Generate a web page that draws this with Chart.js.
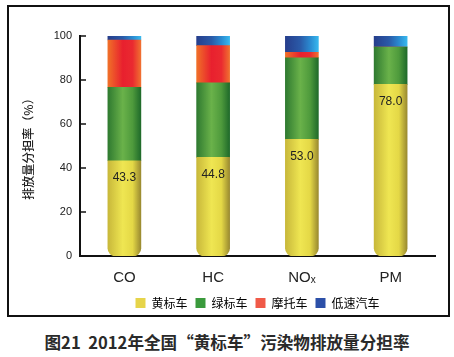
<!DOCTYPE html>
<html><head><meta charset="utf-8">
<script src="https://cdn.jsdelivr.net/npm/chart.js@4"></script>
<style>
body{margin:0;background:#fff;width:454px;height:357px;position:relative;overflow:hidden;font-family:'Liberation Sans','Noto Sans CJK SC',sans-serif;}
#box{position:absolute;left:7px;top:5px;width:439px;height:308px;border:2px solid #111;}
#box canvas{position:absolute;left:0;top:0;}
#title{position:absolute;left:0;width:454px;top:330px;text-align:center;font-size:16.6px;font-weight:bold;color:#2a2a2a;font-family:'Noto Sans CJK SC','Liberation Sans',sans-serif;}
</style></head>
<body>
<div id="box"><canvas id="c" width="439" height="312"></canvas></div>
<div id="title">图21&nbsp; 2012年全国“黄标车”污染物排放量分担率</div>
<script>
const categories = ['CO', 'HC', 'NOₓ', 'PM'];
const seriesNames = ['黄标车', '绿标车', '摩托车', '低速汽车'];
const yellowVals = [43.3, 44.8, 53.0, 78.0];
const greenVals = [33.4, 33.9, 37.1, 17.0];
const motoVals = [21.5, 16.9, 2.5, 0];
const lowSpeedVals = [1.8, 4.4, 7.4, 5.0];
const yTicks = [0, 20, 40, 60, 80, 100];

const BAR_W = 33;
const grads = [
  ['#c8b83a', '#efe652', '#e4d846', '#9a8a30'],
  ['#2f7a30', '#6ab24a', '#4e9a3c', '#1f6a2a'],
  ['#f07028', '#e8202e', '#ea2a30', '#f07030'],
  ['#263e8c', '#2a5aa8', '#2a8ad0', '#38b8ee']
];
const legendColors = ['#e6d44a', '#3a9a3c', '#f05a48', '#2c50a8'];

function gradFor(i) {
  return function (c) {
    const chart = c.chart;
    if (!chart.chartArea || !chart.scales.x) return legendColors[i];
    const x = chart.scales.x.getPixelForValue(c.dataIndex);
    const g = chart.ctx.createLinearGradient(x - BAR_W / 2, 0, x + BAR_W / 2, 0);
    const s = grads[i];
    g.addColorStop(0, s[0]); g.addColorStop(0.45, s[1]); g.addColorStop(0.75, s[2]); g.addColorStop(1, s[3]);
    return g;
  };
}

const valsList = [yellowVals, greenVals, motoVals, lowSpeedVals];
const datasets = seriesNames.map((n, i) => ({
  label: n,
  data: valsList[i],
  backgroundColor: gradFor(i),
  borderWidth: 0,
  borderSkipped: false,
  borderRadius: i === 0 ? {bottomLeft: 8, bottomRight: 8, topLeft: 0, topRight: 0} : 0,
  barThickness: BAR_W
}));

const helpers = {
  id: 'helpers',
  afterDatasetsDraw(chart) {
    const ctx = chart.ctx;
    const meta = chart.getDatasetMeta(0);
    ctx.save();
    ctx.font = '12px "Liberation Sans", sans-serif';
    ctx.fillStyle = '#222';
    ctx.textAlign = 'center';
    ctx.textBaseline = 'middle';
    meta.data.forEach((el, i) => {
      ctx.fillText(yellowVals[i].toFixed(1), el.x, el.y + 17);
    });
    const ys = chart.scales.y;
    ctx.strokeStyle = '#111';
    ctx.lineWidth = 1.5;
    yTicks.forEach(v => {
      const py = ys.getPixelForValue(v);
      ctx.beginPath(); ctx.moveTo(ys.right, py); ctx.lineTo(ys.right + 6, py); ctx.stroke();
    });
    ctx.restore();
  }
};

new Chart(document.getElementById('c'), {
  type: 'bar',
  data: { labels: categories, datasets },
  plugins: [helpers],
  options: {
    responsive: false,
    animation: false,
    layout: { padding: { top: 29, right: 13, left: 0, bottom: 0 } },
    plugins: {
      tooltip: { enabled: false },
      legend: {
        position: 'bottom',
        fullSize: false,
        labels: {
          boxWidth: 10, boxHeight: 10, padding: 8, color: '#222',
          font: { size: 12, family: "'Noto Sans CJK SC', sans-serif" },
          generateLabels(chart) {
            return seriesNames.map((n, i) => ({ text: n, fillStyle: legendColors[i], strokeStyle: legendColors[i], lineWidth: 0, datasetIndex: i }));
          }
        }
      }
    },
    scales: {
      x: {
        stacked: true,
        afterFit(s) { s.height = 33; },
        grid: { display: false, drawTicks: false },
        border: { color: '#111', width: 2 },
        ticks: { color: '#222', font: { size: 15, family: "'Liberation Sans', sans-serif" }, padding: 13 }
      },
      y: {
        stacked: true,
        min: 0, max: 100,
        afterFit(s) { s.width = 71; },
        afterBuildTicks(s) { s.ticks = yTicks.map(v => ({ value: v })); },
        grid: { display: false, drawTicks: false },
        border: { color: '#111', width: 2 },
        ticks: { color: '#222', font: { size: 11, family: "'Liberation Sans', sans-serif" }, padding: 8 },
        title: { display: true, text: '排放量分担率（%）', color: '#222', font: { size: 12, weight: '500', family: "'Noto Sans CJK SC', sans-serif" }, padding: { top: 12, bottom: 0 } }
      }
    }
  }
});
</script>
</body></html>
